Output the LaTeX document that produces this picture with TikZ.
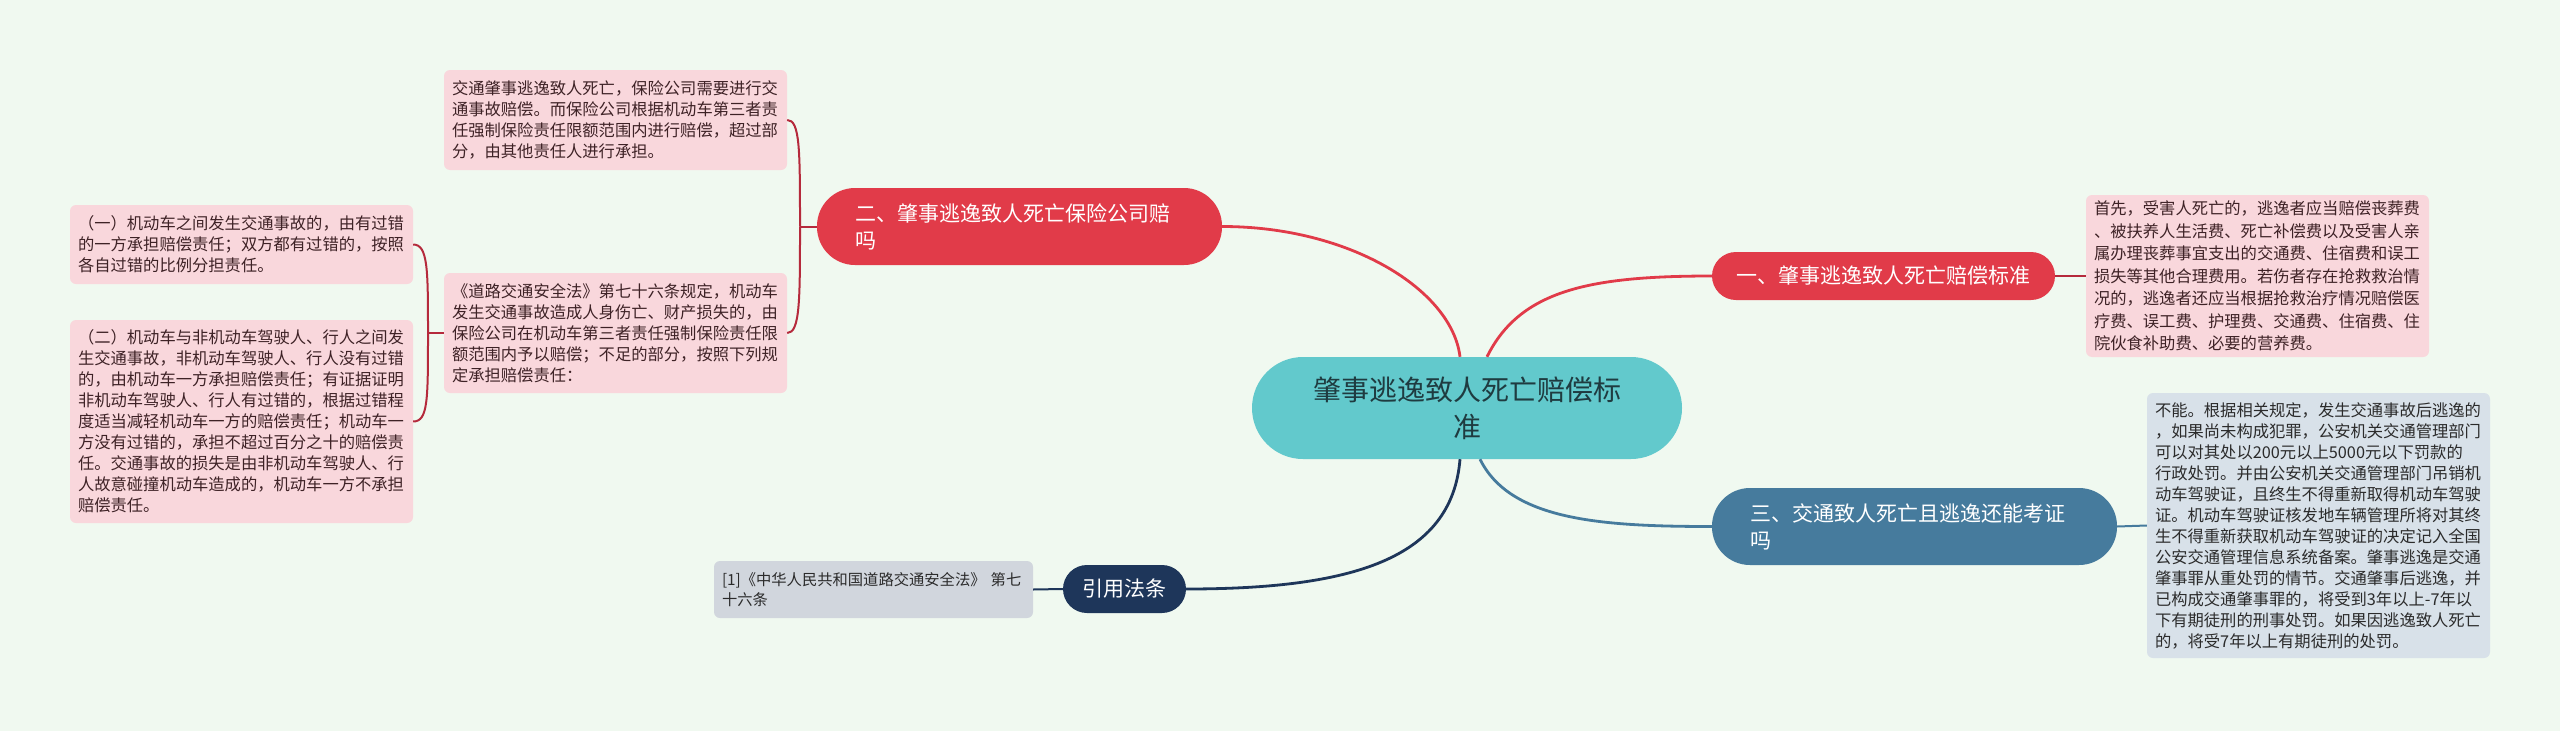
\documentclass[tikz,border=0pt]{standalone}
\usepackage{fontspec}
\setmainfont{Noto Sans CJK SC}
\definecolor{bg}{HTML}{F0F9F0}
\definecolor{redb}{HTML}{E13B49}
\definecolor{redl}{HTML}{B52A3C}
\definecolor{pinkleaf}{HTML}{F9D7DC}
\definecolor{pinktext}{HTML}{3E2226}
\definecolor{teal}{HTML}{62C9CC}
\definecolor{tealtext}{HTML}{1F3B40}
\definecolor{blueb}{HTML}{467B9D}
\definecolor{blueleaf}{HTML}{D8E1E9}
\definecolor{navy}{HTML}{1E365A}
\definecolor{grayleaf}{HTML}{D1D6DD}
\definecolor{darktext}{HTML}{2B2B2B}
\begin{document}
\begin{tikzpicture}[x=1pt,y=-1pt,
  leafbox/.style={rounded corners=6pt, inner xsep=8pt, inner ysep=0pt, align=left, text width=327pt},
  pinkbox/.style={leafbox, fill=pinkleaf, text=pinktext},
  lf/.style={font=\fontsize{16.3}{21}\selectfont},
  branch/.style={inner ysep=0pt, text=white, font=\fontsize{21}{27}\selectfont},
  mainline/.style={line width=2.8pt},
  leafline/.style={line width=2pt}
]
\useasboundingbox[fill=bg] (0,0) rectangle (2560,731);

% central node
\node[fill=teal, rounded corners=51pt, minimum height=102pt, inner xsep=20pt, inner ysep=0pt,
  text width=390pt, align=center, text=tealtext, font=\fontsize{28}{37}\selectfont]
  (c) at (1467,408) {肇事逃逸致人死亡赔偿标\\准};

% branches
\node[branch, fill=redb, rounded corners=38pt, minimum height=77pt, inner xsep=38pt, text width=329pt, align=left]
  (b2) at (1019.5,226.5) {二、肇事逃逸致人死亡保险公司赔\\吗};
\node[branch, fill=redb, rounded corners=24pt, minimum height=48pt, minimum width=343pt, align=center]
  (b1) at (1883.5,276) {一、肇事逃逸致人死亡赔偿标准};
\node[branch, fill=blueb, rounded corners=38pt, minimum height=77pt, inner xsep=38pt, text width=329pt, align=left]
  (b3) at (1914.5,526.5) {三、交通致人死亡且逃逸还能考证\\吗};
\node[branch, fill=navy, rounded corners=24pt, minimum height=48pt, minimum width=123pt, align=center]
  (b4) at (1124.5,589) {引用法条};

% leaves
\node[pinkbox, lf, minimum height=100pt] (l1) at (615.5,120)
  {交通肇事逃逸致人死亡，保险公司需要进行交\\通事故赔偿。而保险公司根据机动车第三者责\\任强制保险责任限额范围内进行赔偿，超过部\\分，由其他责任人进行承担。};
\node[pinkbox, lf, minimum height=120pt] (l2) at (615.5,333)
  {《道路交通安全法》第七十六条规定，机动车\\发生交通事故造成人身伤亡、财产损失的，由\\保险公司在机动车第三者责任强制保险责任限\\额范围内予以赔偿；不足的部分，按照下列规\\定承担赔偿责任：};
\node[pinkbox, lf, minimum height=79pt] (s1) at (241.5,244.5)
  {（一）机动车之间发生交通事故的，由有过错\\的一方承担赔偿责任；双方都有过错的，按照\\各自过错的比例分担责任。};
\node[pinkbox, lf, minimum height=203pt] (s2) at (241.5,421.5)
  {（二）机动车与非机动车驾驶人、行人之间发\\生交通事故，非机动车驾驶人、行人没有过错\\的，由机动车一方承担赔偿责任；有证据证明\\非机动车驾驶人、行人有过错的，根据过错程\\度适当减轻机动车一方的赔偿责任；机动车一\\方没有过错的，承担不超过百分之十的赔偿责\\任。交通事故的损失是由非机动车驾驶人、行\\人故意碰撞机动车造成的，机动车一方不承担\\赔偿责任。};
\node[pinkbox, font=\fontsize{16.3}{22.5}\selectfont, minimum height=162pt] (d1) at (2257.5,276)
  {首先，受害人死亡的，逃逸者应当赔偿丧葬费\\、被扶养人生活费、死亡补偿费以及受害人亲\\属办理丧葬事宜支出的交通费、住宿费和误工\\损失等其他合理费用。若伤者存在抢救救治情\\况的，逃逸者还应当根据抢救治疗情况赔偿医\\疗费、误工费、护理费、交通费、住宿费、住\\院伙食补助费、必要的营养费。};
\node[leafbox, fill=blueleaf, text=darktext, lf, minimum height=265pt] (d3) at (2318.5,525.5)
  {不能。根据相关规定，发生交通事故后逃逸的\\，如果尚未构成犯罪，公安机关交通管理部门\\可以对其处以200元以上5000元以下罚款的\\行政处罚。并由公安机关交通管理部门吊销机\\动车驾驶证，且终生不得重新取得机动车驾驶\\证。机动车驾驶证核发地车辆管理所将对其终\\生不得重新获取机动车驾驶证的决定记入全国\\公安交通管理信息系统备案。肇事逃逸是交通\\肇事罪从重处罚的情节。交通肇事后逃逸，并\\已构成交通肇事罪的，将受到3年以上-7年以\\下有期徒刑的刑事处罚。如果因逃逸致人死亡\\的，将受7年以上有期徒刑的处罚。};
\node[leafbox, fill=grayleaf, text=darktext, text width=303pt, minimum height=57pt,
  font=\fontsize{15.3}{20}\selectfont] (l4) at (873.5,589.5)
  {\mbox{[1]《中华人民共和国道路交通安全法》 第七}\\十六条};

% junctions
\coordinate (j2) at (800,226.5);
\coordinate (j3) at (428,333);

% main connectors
\draw[mainline, redb] ([xshift=-7pt]c.north) .. controls (1452,290) and (1350,226.5) .. (b2.east);
\draw[mainline, redb] ([xshift=20pt]c.north) .. controls (1520,290) and (1590,276) .. (b1.west);
\draw[mainline, blueb] ([xshift=13pt]c.south) .. controls (1510,520) and (1600,526.5) .. (b3.west);
\draw[mainline, navy] ([xshift=-7pt]c.south) .. controls (1452,560) and (1350,589) .. (b4.east);

% leaf connectors
\draw[leafline, redl] (b1.east) -- (d1.west);
\draw[leafline, blueb] (b3.east) -- (d3.west);
\draw[leafline, navy] (b4.west) -- (l4.east);
\draw[leafline, redl] (b2.west) -- (j2);
\draw[leafline, redl] (j2) .. controls (800,150) and (800,120) .. (l1.east);
\draw[leafline, redl] (j2) .. controls (800,300) and (800,333) .. (l2.east);
\draw[leafline, redl] (l2.west) -- (j3);
\draw[leafline, redl] (j3) .. controls (428,270) and (428,244.5) .. (s1.east);
\draw[leafline, redl] (j3) .. controls (428,400) and (428,421.5) .. (s2.east);
\end{tikzpicture}
\end{document}
